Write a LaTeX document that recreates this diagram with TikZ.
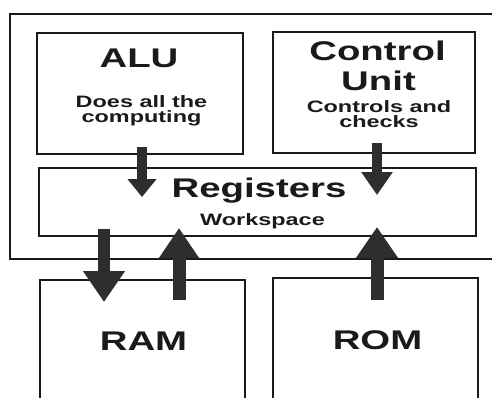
\documentclass[tikz,border=0pt]{standalone}
\usepackage{fontspec}
\setmainfont{Liberation Sans}[FakeStretch=1.42]
\usetikzlibrary{arrows.meta}
\definecolor{ink}{HTML}{1A1A1A}
\definecolor{arr}{HTML}{2E2E2E}
\tikzset{
  box/.style={draw=ink, line width=1.7pt, rectangle, inner sep=0pt},
  big/.style={anchor=base, inner sep=0pt, text=ink, font=\bfseries\fontsize{27}{27}\selectfont},
  small/.style={anchor=base, inner sep=0pt, text=ink, font=\bfseries\fontsize{16.5}{16.5}\selectfont},
  blk/.style={draw=arr, color=arr, line cap=butt},
}
\begin{document}
\begin{tikzpicture}[x=1pt,y=-1pt]
\useasboundingbox (0,0) rectangle (492,397);
\fill[white] (0,0) rectangle (492,397);
\clip (0,0) rectangle (492,397);
% boxes
\node[box, minimum width=490pt, minimum height=245pt] (cpu) at (255,136.5) {};
\node[box, minimum width=206pt, minimum height=121pt] (alu) at (140,93.5) {};
\node[box, minimum width=202pt, minimum height=121pt] (cu) at (374,92.5) {};
\node[box, minimum width=437pt, minimum height=68pt] (reg) at (257.5,202) {};
\node[box, minimum width=205pt, minimum height=130pt] (ram) at (142.5,345) {};
\node[box, minimum width=205pt, minimum height=132pt] (rom) at (375.5,344) {};
% texts
\node[big] (talu) at (139,67) {ALU};
\node[small] (talu1) at (141.5,107) {Does all the};
\node[small] (talu2) at (141.5,122) {computing};
\node[big] (tcu) at (377.5,60) {Control};
\node[big] (tcu2) at (378.5,90) {Unit};
\node[small] (tcu3) at (379,112) {Controls and};
\node[small] (tcu4) at (379,127) {checks};
\node[big] (treg) at (259,197) {Registers};
\node[small] (treg2) at (262.5,225) {Workspace};
\node[big] (tram) at (143.5,350) {RAM};
\node[big] (trom) at (377.5,349) {ROM};
% arrow end points
\coordinate (a1s) at (142,147);
\coordinate (a1e) at (142,197);
\coordinate (a2s) at (377,143);
\coordinate (a2e) at (377,195);
\coordinate (a3s) at (104,229);
\coordinate (a3e) at (104,302);
\coordinate (a4s) at (179,300);
\coordinate (a4e) at (179,228);
\coordinate (a5s) at (377,300);
\coordinate (a5e) at (377,227);
\draw[blk, line width=10pt, -{Triangle[width=28pt,length=18pt]}] (a1s) -- (a1e);
\draw[blk, line width=10pt, -{Triangle[width=30pt,length=23pt]}] (a2s) -- (a2e);
\draw[blk, line width=12pt, -{Triangle[width=40pt,length=31pt]}] (a3s) -- (a3e);
\draw[blk, line width=13pt, -{Triangle[width=38pt,length=30pt]}] (a4s) -- (a4e);
\draw[blk, line width=13pt, -{Triangle[width=40pt,length=31pt]}] (a5s) -- (a5e);
\end{tikzpicture}
\end{document}
